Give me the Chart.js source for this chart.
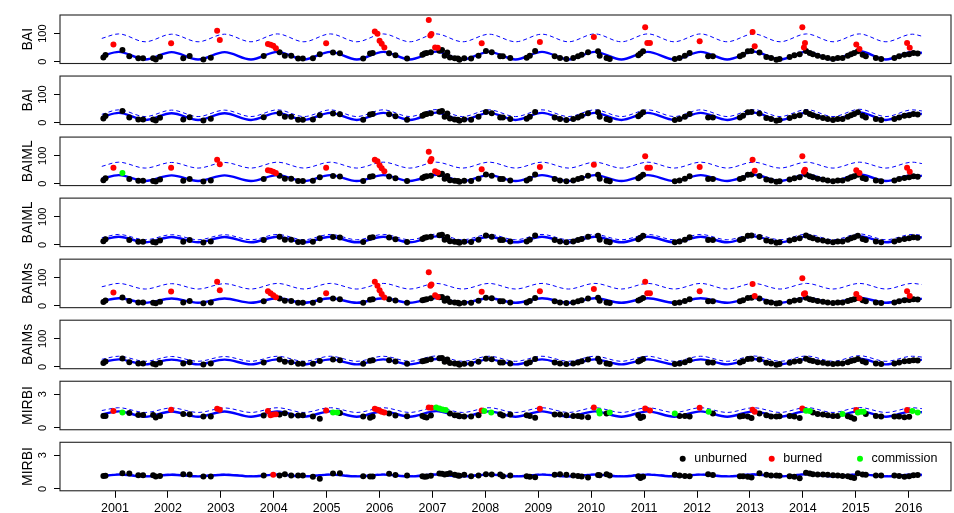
<!DOCTYPE html>
<html>
<head>
<meta charset="utf-8">
<script src="https://cdn.jsdelivr.net/npm/chart.js@4.4.1/dist/chart.umd.min.js"></script>
<style>
  html, body { margin: 0; padding: 0; background: #fff; }
  #wrap { position: relative; width: 954px; height: 513px; overflow: hidden; }
  #wrap canvas { position: absolute; left: 0; }
</style>
</head>
<body>
<div id="wrap"></div>
<script>
const yearTicks = [2001, 2002, 2003, 2004, 2005, 2006, 2007, 2008, 2009, 2010, 2011, 2012, 2013, 2014, 2015, 2016];

// observation dates (decimal years), shared by every panel
const obsTime = [2000.78, 2000.82, 2001.14, 2001.27, 2001.44, 2001.53, 2001.72, 2001.77, 2001.85, 2002.29,
  2002.41, 2002.67, 2002.81, 2003.81, 2004.11, 2004.21, 2004.33, 2004.46, 2004.55, 2004.74,
  2004.87, 2005.12, 2005.25, 2005.69, 2005.82, 2005.87, 2006.18, 2006.30, 2006.52, 2006.81,
  2006.85, 2006.89, 2006.97, 2007.13, 2007.18, 2007.23, 2007.28, 2007.33, 2007.42, 2007.48,
  2007.51, 2007.60, 2007.73, 2007.87, 2008.01, 2008.12, 2008.28, 2008.33, 2008.47, 2008.78,
  2008.84, 2008.94, 2009.31, 2009.41, 2009.53, 2009.66, 2009.75, 2009.82, 2009.94, 2010.13,
  2010.16, 2010.29, 2010.35, 2010.89, 2010.93, 2010.98, 2011.58, 2011.67, 2011.77, 2011.86,
  2012.21, 2012.30, 2012.81, 2012.87, 2012.96, 2013.03, 2013.18, 2013.31, 2013.40, 2013.50,
  2013.56, 2013.75, 2013.84, 2013.94, 2014.06, 2014.13, 2014.19, 2014.28, 2014.38, 2014.47,
  2014.57, 2014.66, 2014.75, 2014.85, 2014.91, 2014.97, 2015.04, 2015.13, 2015.19, 2015.38,
  2015.48, 2015.73, 2015.82, 2015.92, 2016.01, 2016.09, 2016.17];

const baiObs = [15, 24, 42, 19, 12, 12, 12, 8, 18, 12,
  20, 8, 14, 20, 34, 21, 21, 11, 11, 12,
  27, 33, 30, 11, 29, 31, 30, 23, 11, 25,
  29, 31, 34, 39, 42, 21, 33, 15, 12, 11,
  7, 12, 11, 21, 38, 34, 19, 19, 13, 14,
  21, 38, 19, 13, 10, 13, 19, 25, 34, 37,
  21, 13, 10, 23, 29, 37, 10, 13, 21, 31,
  19, 19, 19, 25, 37, 38, 33, 17, 13, 7,
  10, 17, 23, 27, 38, 31, 27, 21, 17, 13,
  10, 13, 13, 21, 27, 31, 37, 25, 19, 13,
  10, 13, 19, 25, 27, 31, 29];

const baimlObs = [13, 20, null, 17, 11, 11, 10, 8, 15, 11,
  17, 8, 12, 17, 29, 18, 18, 10, 10, 11,
  23, 28, 26, 10, 25, 27, 26, 20, 10, 21,
  25, 27, 29, 34, 36, 18, 28, 13, 11, 10,
  7, 11, 10, 18, 33, 29, 17, 17, 12, 12,
  18, 33, 17, 12, 9, 12, 17, 21, 29, 32,
  18, 12, 9, 20, 25, 32, 9, 12, 18, 27,
  17, 17, 17, 21, 32, 33, 28, 15, 12, 7,
  9, 15, 20, 23, 33, 27, 23, 18, 15, 12,
  9, 12, 12, 18, 23, 27, 32, 21, 17, 12,
  9, 12, 17, 21, 23, 27, 25];

const baimsObs = [14, 19, 30, 17, 12, 12, 11, 9, 15, 12,
  17, 9, 12, 16, 26, 18, 17, 11, 11, 11,
  21, 26, 24, 11, 22, 24, 24, 19, 11, 20,
  22, 24, 27, 31, 32, 18, 26, 14, 12, 11,
  8, 11, 11, 18, 29, 27, 16, 16, 12, 12,
  17, 28, 16, 12, 10, 12, 16, 20, 26, 29,
  18, 12, 10, 19, 23, 28, 10, 12, 17, 24,
  16, 16, 16, 20, 28, 29, 26, 15, 12, 8,
  10, 15, 19, 21, 29, 24, 21, 17, 15, 12,
  10, 12, 12, 17, 21, 24, 28, 20, 16, 12,
  10, 12, 16, 20, 21, 24, 23];

const mirbiObs = [1.07, 1.07, null, 1.34, 1.16, 1.16, 1.16, 0.94, 1.07, 1.25,
  1.22, 1.01, 1.01, 1.10, 1.19, 1.31, 1.10, 1.10, 1.13, 1.01,
  0.82, null, 1.34, 1.01, 0.91, 1.01, 1.28, 1.10, 1.04, 1.07,
  0.98, 0.94, 1.10, null, null, null, null, 1.28, 1.13, 1.10,
  1.04, 1.01, 1.01, 1.13, null, null, 1.22, 1.10, 1.19, 1.13,
  1.07, 0.90, 1.19, 1.19, 1.13, 1.07, 1.07, 1.00, 0.95, null,
  null, 1.28, null, 1.13, 0.89, 1.00, null, 1.07, 1.07, 1.01,
  null, 1.28, 1.01, 1.07, 1.01, 0.89, 1.28, 1.13, 1.01, 1.01,
  1.04, 1.07, 1.01, 0.89, null, null, 1.38, 1.25, 1.19, 1.13,
  1.07, 1.07, null, 1.04, 0.95, 0.83, null, null, 1.25, 1.07,
  1.01, 1.01, 1.01, 0.95, 1.00, null, null];

const mirbiRefObs = [1.15, 1.18, 1.40, 1.38, 1.23, 1.22, 1.22, 1.11, 1.15, 1.32,
  1.30, 1.11, 1.12, 1.20, 1.20, 1.32, 1.20, 1.19, 1.19, 1.08,
  0.92, 1.38, 1.41, 1.14, 1.11, 1.12, 1.35, 1.25, 1.20, 1.14,
  1.10, 1.11, 1.18, 1.38, 1.36, 1.30, 1.33, 1.41, 1.26, 1.20,
  1.17, 1.26, 1.14, 1.20, 1.32, 1.30, 1.29, 1.14, 1.20, 1.13,
  1.10, 1.05, 1.26, 1.32, 1.26, 1.20, 1.16, 1.12, 1.02, 1.24,
  1.22, 1.32, 1.19, 1.14, 0.98, 1.08, 1.26, 1.20, 1.16, 1.14,
  1.32, 1.25, 1.14, 1.14, 1.10, 1.02, 1.41, 1.26, 1.20, 1.20,
  1.18, 1.14, 1.08, 0.96, 1.44, 1.38, 1.32, 1.30, 1.28, 1.26,
  1.22, 1.20, 1.15, 1.13, 1.05, 0.98, 1.41, 1.28, 1.26, 1.21,
  1.19, 1.20, 1.16, 1.10, 1.14, 1.22, 1.25];

// burned observations
const burnTime = [2000.97, 2002.06, 2002.93, 2002.98, 2003.89, 2003.94, 2003.99, 2004.04, 2004.99, 2005.91,
  2005.96, 2006.00, 2006.04, 2006.09, 2006.93, 2006.96, 2006.98, 2007.05, 2007.10, 2007.93,
  2009.03, 2010.05, 2011.02, 2011.06, 2011.11, 2012.05, 2013.05, 2013.09, 2013.99, 2014.02,
  2014.04, 2015.01, 2015.07, 2015.97, 2016.02];
const baiBurn = [61, 66, 110, 77, 63, 60, 57, 48, 66, 108,
  100, 75, 64, 51, 149, 93, 99, 51, 50, 66,
  70, 88, 123, 67, 67, 73, 106, 55, 123, 51,
  67, 61, 45, 67, 50];
const baimlBurn = [57, 57, 86, 70, 48, 46, 43, 38, 57, 86,
  80, 66, 55, 45, 114, 80, 88, 45, 40, 52,
  60, 68, 98, 57, 57, 60, 86, 46, 98, 43,
  50, 48, 38, 57, 43];
const baimsBurn = [48, 51, 86, 56, 52, 45, 38, 31, 45, 86,
  72, 56, 42, 30, 120, 72, 76, 38, 32, 50,
  52, 60, 86, 45, 45, 52, 78, 35, 98, 42,
  45, 42, 27, 52, 35];
const mirbiBurn = [1.50, 1.62, 1.71, 1.62, 1.50, 1.13, 1.19, 1.22, 1.56, 1.71,
  1.62, 1.53, 1.44, 1.38, 1.83, null, 1.80, null, null, 1.56,
  1.71, 1.83, 1.74, null, 1.56, 1.80, 1.62, 1.44, 1.74, null,
  null, 1.59, null, 1.59, null];
const mirbiRefBurnTime = [2003.99];
const mirbiRefBurn = [1.26];

// commission errors
const baimlCommTime = [2001.14];
const baimlComm = [38];
const mirbiCommTime = [2001.14, 2005.12, 2005.20, 2007.07, 2007.13, 2007.19, 2007.25, 2007.98, 2008.11, 2010.15,
  2010.16, 2010.35, 2011.58, 2012.22, 2014.06, 2014.13, 2014.75, 2015.04, 2015.10, 2015.15,
  2016.07, 2016.17];
const mirbiComm = [1.37, 1.37, 1.37, 1.83, 1.74, 1.65, 1.59, 1.50, 1.38, 1.50,
  1.28, 1.37, 1.28, 1.44, 1.53, 1.50, 1.25, 1.37, 1.44, 1.44,
  1.50, 1.37];

// harmonic model (solid) and threshold (dashed), read at start, yearly peaks/troughs and end
const lineTime = [2000.75, 2001.07, 2001.57, 2002.07, 2002.57, 2003.07, 2003.57, 2004.07, 2004.57, 2005.07,
  2005.57, 2006.07, 2006.57, 2007.07, 2007.57, 2008.07, 2008.57, 2009.07, 2009.57, 2010.07,
  2010.57, 2011.07, 2011.57, 2012.07, 2012.57, 2013.07, 2013.57, 2014.07, 2014.57, 2015.07,
  2015.57, 2016.07, 2016.25];
const baiFit = [20, 35, 8, 34, 8, 34, 8, 35, 8, 35, 8, 35, 8, 36, 8, 35, 8, 35, 8, 35, 8, 35, 8, 35, 8, 36, 8, 36, 8, 37, 8, 35, 31];
const baiUpper = [83, 99, 71, 98, 71, 98, 71, 99, 71, 99, 71, 99, 71, 99, 71, 98, 71, 98, 71, 99, 71, 99, 71, 99, 71, 99, 71, 99, 71, 99, 71, 98, 91];
const baiRefFit = [20, 35, 10, 34, 10, 34, 10, 35, 10, 35, 10, 35, 10, 36, 10, 35, 10, 35, 10, 35, 10, 35, 10, 35, 10, 36, 10, 36, 10, 37, 10, 35, 31];
const baiRefUpper = [30, 46, 22, 45, 22, 45, 22, 46, 22, 46, 22, 46, 22, 47, 22, 46, 22, 46, 22, 46, 22, 46, 22, 46, 22, 47, 22, 47, 22, 48, 22, 46, 42];
const baimlFit = [18, 31, 10, 30, 10, 30, 10, 31, 10, 31, 10, 31, 10, 32, 10, 31, 10, 31, 10, 31, 10, 31, 10, 31, 10, 32, 10, 32, 10, 33, 10, 31, 28];
const baimlUpper = [62, 77, 56, 76, 56, 76, 56, 77, 56, 77, 56, 77, 56, 77, 56, 77, 56, 77, 56, 77, 56, 77, 56, 77, 56, 77, 56, 77, 56, 77, 56, 77, 72];
const baimlRefFit = [17, 29, 9, 28, 9, 28, 9, 29, 9, 29, 9, 29, 9, 30, 9, 29, 9, 29, 9, 29, 9, 29, 9, 29, 9, 30, 9, 30, 9, 31, 9, 29, 26];
const baimlRefUpper = [25, 37, 18, 36, 18, 36, 18, 37, 18, 37, 18, 37, 18, 38, 18, 37, 18, 37, 18, 37, 18, 37, 18, 37, 18, 38, 18, 38, 18, 39, 18, 37, 34];
const baimsFit = [17, 27, 11, 26, 11, 26, 11, 27, 11, 27, 11, 27, 11, 28, 11, 27, 11, 27, 11, 27, 11, 27, 11, 27, 11, 28, 11, 28, 11, 29, 11, 27, 25];
const baimsUpper = [68, 80, 60, 79, 60, 79, 60, 80, 60, 80, 60, 80, 60, 80, 60, 80, 60, 80, 60, 80, 60, 80, 60, 80, 60, 80, 60, 80, 60, 80, 60, 80, 76];
const baimsRefFit = [17, 27, 9, 26, 9, 26, 9, 27, 9, 27, 9, 27, 9, 28, 9, 27, 9, 27, 9, 27, 9, 27, 9, 27, 9, 28, 9, 28, 9, 29, 9, 27, 25];
const baimsRefUpper = [27, 38, 20, 37, 20, 37, 20, 38, 20, 38, 20, 38, 20, 39, 20, 38, 20, 38, 20, 38, 20, 38, 20, 38, 20, 39, 20, 39, 20, 40, 20, 38, 35];
const mirbiFit = [1.2, 1.48, 1.0, 1.46, 1.0, 1.46, 1.0, 1.48, 1.0, 1.48, 1.0, 1.48, 1.0, 1.5, 1.0, 1.48, 1.0, 1.48, 1.0, 1.48, 1.0, 1.48, 1.0, 1.48, 1.0, 1.48, 1.0, 1.5, 1.0, 1.5, 1.0, 1.48, 1.4];
const mirbiUpper = [1.55, 1.8, 1.38, 1.78, 1.38, 1.78, 1.38, 1.8, 1.38, 1.8, 1.38, 1.8, 1.38, 1.82, 1.38, 1.8, 1.38, 1.8, 1.38, 1.8, 1.38, 1.8, 1.38, 1.8, 1.38, 1.8, 1.38, 1.82, 1.38, 1.82, 1.38, 1.8, 1.72];
const mirbiRefFit = [1.15, 1.28, 1.12, 1.27, 1.12, 1.27, 1.12, 1.28, 1.12, 1.28, 1.12, 1.28, 1.12, 1.29, 1.12, 1.28, 1.12, 1.28, 1.12, 1.28, 1.12, 1.28, 1.12, 1.28, 1.12, 1.29, 1.12, 1.3, 1.12, 1.3, 1.12, 1.28, 1.25];
const mirbiRefUpper = [1.2, 1.33, 1.18, 1.32, 1.18, 1.32, 1.18, 1.33, 1.18, 1.33, 1.18, 1.33, 1.18, 1.34, 1.18, 1.33, 1.18, 1.33, 1.18, 1.33, 1.18, 1.33, 1.18, 1.33, 1.18, 1.34, 1.18, 1.35, 1.18, 1.35, 1.18, 1.33, 1.3];

const legendLabels = ["unburned", "burned", "commission"];
const legendColors = ["#000000", "#ff0000", "#00ff00"];

const panels = [
    { title: "BAI", obs: baiObs, burnT: burnTime, burn: baiBurn, commT: [], comm: [], fit: baiFit, upper: baiUpper, kind: "bai" },
    { title: "BAI", obs: baiObs, burnT: [], burn: [], commT: [], comm: [], fit: baiRefFit, upper: baiRefUpper, kind: "bai" },
    { title: "BAIML", obs: baimlObs, burnT: burnTime, burn: baimlBurn, commT: baimlCommTime, comm: baimlComm, fit: baimlFit, upper: baimlUpper, kind: "bai" },
    { title: "BAIML", obs: baimlObs, burnT: [], burn: [], commT: [], comm: [], fit: baimlRefFit, upper: baimlRefUpper, kind: "bai" },
    { title: "BAIMs", obs: baimsObs, burnT: burnTime, burn: baimsBurn, commT: [], comm: [], fit: baimsFit, upper: baimsUpper, kind: "bai" },
    { title: "BAIMs", obs: baimsObs, burnT: [], burn: [], commT: [], comm: [], fit: baimsRefFit, upper: baimsRefUpper, kind: "bai" },
    { title: "MIRBI", obs: mirbiObs, burnT: burnTime, burn: mirbiBurn, commT: mirbiCommTime, comm: mirbiComm, fit: mirbiFit, upper: mirbiUpper, kind: "mirbi" },
    { title: "MIRBI", obs: mirbiRefObs, burnT: mirbiRefBurnTime, burn: mirbiRefBurn, commT: [], comm: [], fit: mirbiRefFit, upper: mirbiRefUpper, kind: "mirbi" }
];

const yRange = {
    bai: { min: -6.4, max: 166.4, ticks: [0, 100] },
    mirbi: { min: -0.16, max: 4.16, ticks: [0, 3] }
};

const FONT = "'Liberation Sans', Arial, sans-serif";
const PANEL_TOP = 15;
const PANEL_STEP = 61.04;
const PANEL_H = 48.5;

function toPoints(xs, ys) {
    const pts = [];
    xs.forEach((x, k) => {
        if (ys[k] !== null && ys[k] !== undefined) pts.push({ x: x, y: ys[k] });
    });
    return pts;
}

// frame, rotated y labels, legend
const decor = {
    id: "decor",
    afterDraw(chart, args, opts) {
        const { ctx, chartArea } = chart;
        const yScale = chart.scales.y;
        ctx.save();
        ctx.strokeStyle = "#222";
        ctx.lineWidth = 1.1;
        ctx.strokeRect(chartArea.left, chartArea.top, chartArea.right - chartArea.left, chartArea.bottom - chartArea.top);

        ctx.fillStyle = "#000";
        ctx.textAlign = "center";
        ctx.textBaseline = "middle";
        ctx.font = "11px " + FONT;
        opts.yTicks.forEach(v => {
            const y = yScale.getPixelForValue(v);
            ctx.save();
            ctx.translate(43, y);
            ctx.rotate(-Math.PI / 2);
            ctx.fillText(String(v), 0, 0);
            ctx.restore();
        });

        ctx.font = "14px " + FONT;
        ctx.save();
        ctx.translate(28, (chartArea.top + chartArea.bottom) / 2);
        ctx.rotate(-Math.PI / 2);
        ctx.fillText(opts.title, 0, 0);
        ctx.restore();

        if (opts.legend) {
            const dotX = [682.7, 771.7, 860];
            const y = chartArea.top + 16.5;
            ctx.font = "12.5px " + FONT;
            ctx.textAlign = "left";
            legendLabels.forEach((lab, k) => {
                ctx.beginPath();
                ctx.fillStyle = legendColors[k];
                ctx.arc(dotX[k], y, 3, 0, Math.PI * 2);
                ctx.fill();
                ctx.fillStyle = "#000";
                ctx.fillText(lab, dotX[k] + 11.5, y);
            });
        }
        ctx.restore();
    }
};

const wrap = document.getElementById("wrap");

panels.forEach((p, i) => {
    const isLast = i === panels.length - 1;
    const frameTop = PANEL_TOP + PANEL_STEP * i;
    const canvasTop = Math.floor(frameTop) - 4;
    const padTop = frameTop - canvasTop;
    const canvasH = isLast ? 513 - canvasTop : 60;
    const padBottom = isLast ? 0 : canvasH - padTop - PANEL_H;
    const xAxisH = isLast ? canvasH - padTop - PANEL_H : 0;

    const canvas = document.createElement("canvas");
    canvas.width = 954;
    canvas.height = canvasH;
    canvas.style.top = canvasTop + "px";
    wrap.appendChild(canvas);

    const range = yRange[p.kind];
    const pointStyle = color => ({
        showLine: false,
        pointRadius: 3,
        pointHoverRadius: 3,
        pointBorderWidth: 0,
        pointBackgroundColor: color,
        backgroundColor: color,
        borderColor: color
    });

    new Chart(canvas, {
        type: "scatter",
        data: {
            datasets: [
                Object.assign({ label: "commission", data: toPoints(p.commT, p.comm) }, pointStyle("#00ff00")),
                Object.assign({ label: "burned", data: toPoints(p.burnT, p.burn) }, pointStyle("#ff0000")),
                Object.assign({ label: "unburned", data: toPoints(obsTime, p.obs) }, pointStyle("#000000")),
                {
                    label: "model",
                    data: toPoints(lineTime, p.fit),
                    showLine: true,
                    borderColor: "#0000ff",
                    borderWidth: 2.4,
                    pointRadius: 0,
                    fill: false,
                    cubicInterpolationMode: "monotone"
                },
                {
                    label: "threshold",
                    data: toPoints(lineTime, p.upper),
                    showLine: true,
                    borderColor: "#0000ff",
                    borderWidth: 1,
                    borderDash: [4, 3],
                    pointRadius: 0,
                    fill: false,
                    cubicInterpolationMode: "monotone"
                }
            ]
        },
        options: {
            responsive: false,
            animation: false,
            events: [],
            layout: { padding: { left: 0, right: 2, top: padTop, bottom: padBottom } },
            plugins: {
                legend: { display: false },
                tooltip: { enabled: false },
                decor: { title: p.title, yTicks: range.ticks, legend: isLast }
            },
            scales: {
                x: {
                    type: "linear",
                    min: 1999.96,
                    max: 2016.8,
                    display: isLast,
                    afterBuildTicks: s => { s.ticks = yearTicks.map(v => ({ value: v })); },
                    afterFit: s => { s.height = xAxisH; },
                    ticks: {
                        callback: v => String(v),
                        color: "#000",
                        font: { family: FONT, size: 12.5 },
                        padding: 3,
                        maxRotation: 0,
                        autoSkip: false
                    },
                    grid: { drawOnChartArea: false, drawTicks: true, tickLength: 7, color: "#000", lineWidth: 1 },
                    border: { display: false }
                },
                y: {
                    type: "linear",
                    min: range.min,
                    max: range.max,
                    afterBuildTicks: s => { s.ticks = range.ticks.map(v => ({ value: v })); },
                    afterFit: s => { s.width = 60; },
                    ticks: { display: false },
                    grid: { drawOnChartArea: false, drawTicks: true, tickLength: 6, color: "#000", lineWidth: 1 },
                    border: { display: false }
                }
            }
        },
        plugins: [decor]
    });
});
</script>
</body>
</html>
